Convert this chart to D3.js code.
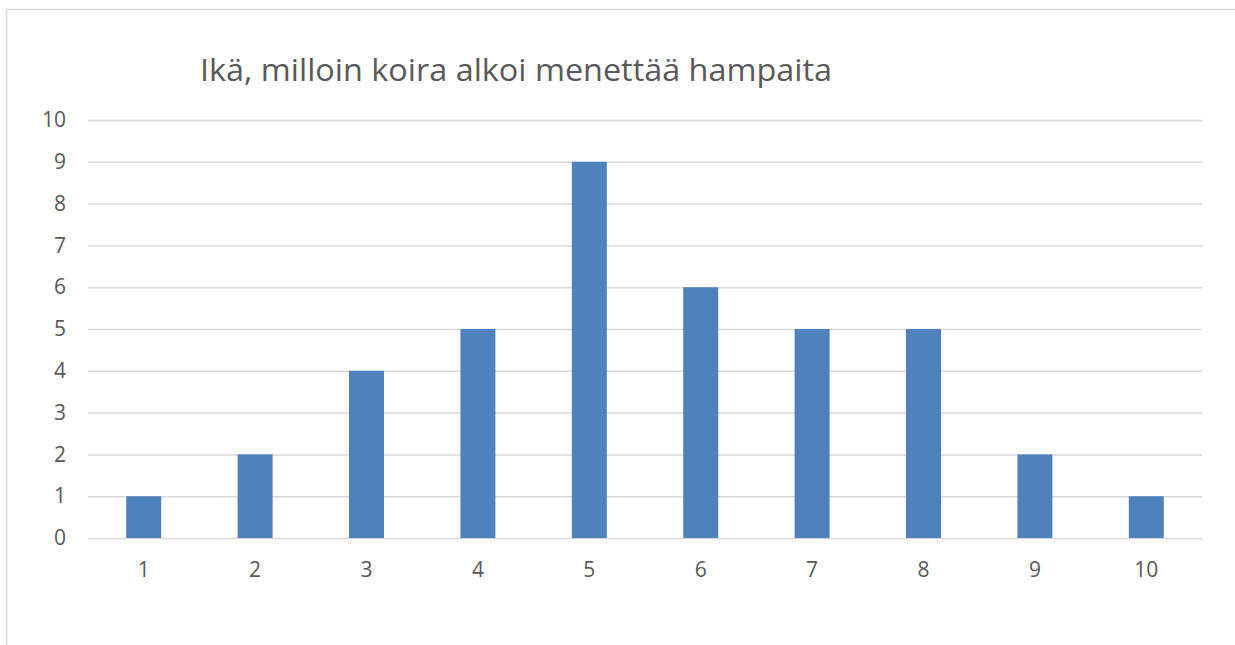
<!DOCTYPE html>
<html>
<head>
<meta charset="utf-8">
<script src="https://d3js.org/d3.v7.min.js"></script>
<style>
  body { margin: 0; background: #fff; }
  .grid line { stroke: #d9d9d9; stroke-width: 1.5; }
  .axis text { fill: #595959; font-family: "Open Sans", sans-serif; font-size: 21px; }
</style>
</head>
<body>
<div id="chart"></div>
<script>
  // data
  var ages = ["1", "2", "3", "4", "5", "6", "7", "8", "9", "10"];
  var counts = [1, 2, 4, 5, 9, 6, 5, 5, 2, 1];
  var yTicks = [0, 1, 2, 3, 4, 5, 6, 7, 8, 9, 10];
  var title = "Ikä, milloin koira alkoi menettää hampaita";

  var width = 1235,
      height = 645;

  var margin = {top: 120, left: 88, right: 33, bottom: 107};
  var w = width - margin.left - margin.right,
      h = height - margin.top - margin.bottom;

  var svg = d3.select("#chart").append("svg")
      .attr("width", width)
      .attr("height", height);

  // chart area border
  svg.append("path")
      .attr("d", "M6.5,650 V9.5 H1240")
      .attr("fill", "none")
      .attr("stroke", "#d9d9d9")
      .attr("stroke-width", 1.5);

  svg.append("text")
      .attr("x", 516)
      .attr("y", 81)
      .attr("text-anchor", "middle")
      .attr("fill", "#595959")
      .style("font-family", "'Open Sans', sans-serif")
      .style("font-size", "31px")
      .attr("textLength", 632)
      .attr("lengthAdjust", "spacingAndGlyphs")
      .text(title);

  var g = svg.append("g")
      .attr("transform", "translate(" + margin.left + "," + margin.top + ")");

  var x = d3.scaleBand()
      .domain(ages)
      .range([0, w])
      .paddingInner(0.686)
      .paddingOuter(0.343);

  var y = d3.scaleLinear()
      .domain([0, 10])
      .range([h, 0]);

  // gridlines + y labels
  g.append("g")
      .attr("class", "axis grid")
      .call(d3.axisLeft(y).tickValues(yTicks).tickSize(-w).tickPadding(22))
      .call(function(s) { s.select(".domain").remove(); });

  g.selectAll("rect.bar")
      .data(counts)
    .enter().append("rect")
      .attr("class", "bar")
      .attr("x", function(d, i) { return x(ages[i]); })
      .attr("width", x.bandwidth())
      .attr("y", function(d) { return y(d); })
      .attr("height", function(d) { return h - y(d); })
      .attr("fill", "#4f81bd");

  // x labels
  g.append("g")
      .attr("class", "axis")
      .attr("transform", "translate(0," + h + ")")
      .call(d3.axisBottom(x).tickSize(0).tickPadding(24))
      .call(function(s) { s.select(".domain").remove(); });
</script>
</body>
</html>
